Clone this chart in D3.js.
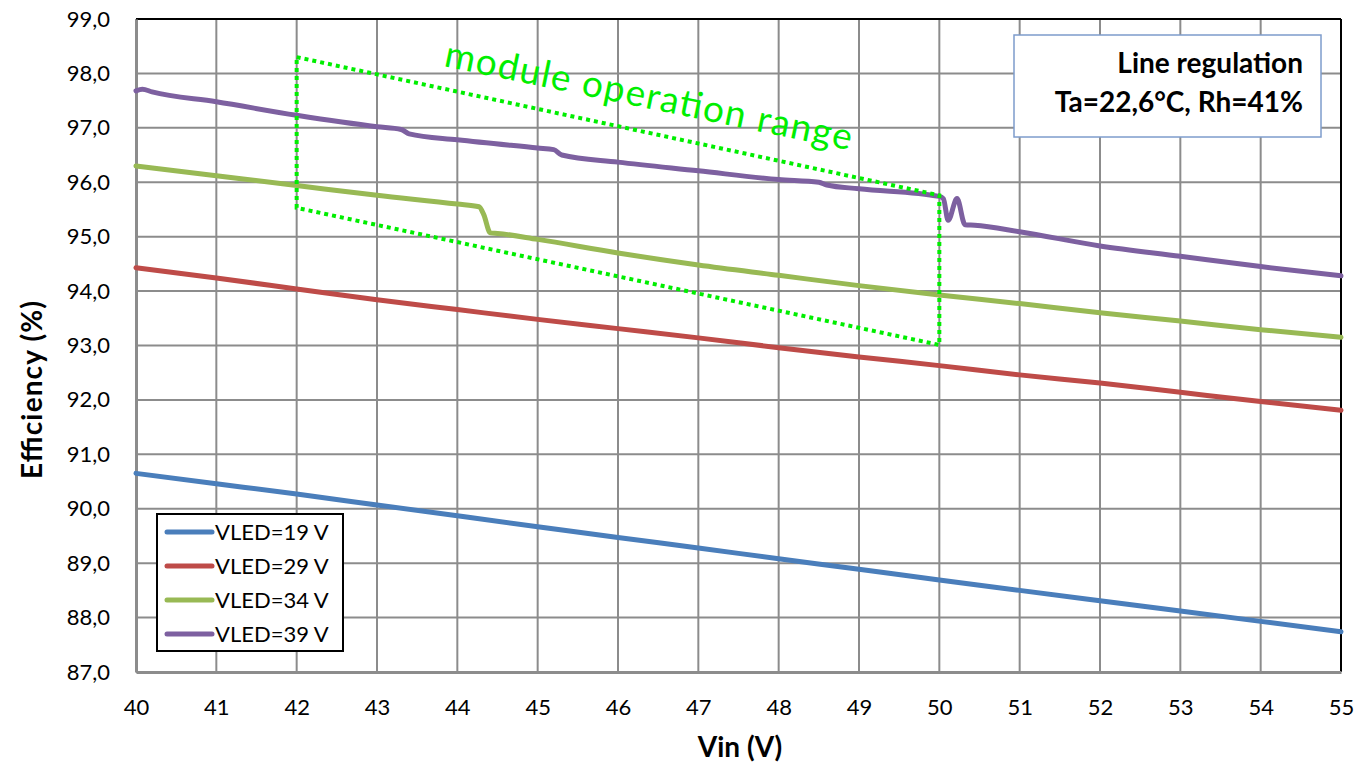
<!DOCTYPE html>
<html><head><meta charset="utf-8">
<script src="https://cdn.jsdelivr.net/npm/d3@7"></script>
<style>body{margin:0;background:#fff;} svg{display:block;font-family:Lato,"Open Sans",sans-serif;}</style>
</head><body>
<svg id="c" width="1356" height="765"></svg>
<script>
const xTicks = [40,41,42,43,44,45,46,47,48,49,50,51,52,53,54,55];
const yTicks = [87,88,89,90,91,92,93,94,95,96,97,98,99];
const seriesNames = ["VLED=19 V","VLED=29 V","VLED=34 V","VLED=39 V"];
const seriesColors = ["#4a7ebb","#be4b48","#98b954","#7d60a0"];
const vin19 = [40,41,42,43,44,45,46,47,48,49,50,51,52,53,54,55];
const eff19 = [90.65,90.46,90.27,90.07,89.87,89.67,89.47,89.28,89.08,88.89,88.69,88.50,88.31,88.12,87.93,87.74];
const vin29 = [40,41,42,43,44,45,46,47,48,49,50,51,52,53,54,55];
const eff29 = [94.43,94.24,94.04,93.84,93.66,93.48,93.31,93.14,92.96,92.79,92.63,92.46,92.31,92.14,91.97,91.81];
const vin34 = [40,41,42,43,44,44.27,44.33,44.41,44.5,45,46,47,48,49,50,51,52,53,54,55];
const eff34 = [96.30,96.12,95.94,95.76,95.60,95.55,95.40,95.07,95.06,94.95,94.70,94.48,94.29,94.10,93.93,93.77,93.60,93.45,93.29,93.15];
const vin39 = [40,40.08,40.2,41,42,43,43.3,43.4,44,45,45.2,45.3,46,47,48,48.5,48.6,49,50,50.05,50.11,50.22,50.32,50.44,51,52,53,54,55];
const eff39 = [97.68,97.71,97.66,97.48,97.23,97.02,96.97,96.89,96.78,96.63,96.60,96.50,96.37,96.21,96.05,96.00,95.95,95.88,95.74,95.70,95.30,95.70,95.22,95.21,95.09,94.83,94.64,94.45,94.28];
const rangeVin = [42,50,50,42];
const rangeEff = [98.30,95.76,93.01,95.53];
const boxLines = ["Line regulation","Ta=22,6°C, Rh=41%"];
const rangeLabel = "module operation range";

const svg = d3.select("#c");
const L=136,R=1341,T=19,B=672;
const x = d3.scaleLinear().domain([40,55]).range([L,R]);
const y = d3.scaleLinear().domain([87,99]).range([B,T]);

// grid
svg.append("g").selectAll("line").data(xTicks).join("line")
  .attr("x1",d=>x(d)).attr("x2",d=>x(d)).attr("y1",T).attr("y2",B)
  .attr("stroke","#8c8c8c").attr("stroke-width",2);
svg.append("g").selectAll("line").data(yTicks).join("line")
  .attr("x1",L).attr("x2",R).attr("y1",d=>y(d)).attr("y2",d=>y(d))
  .attr("stroke","#8c8c8c").attr("stroke-width",2);
// top/right black border
svg.append("line").attr("x1",L).attr("x2",R).attr("y1",T).attr("y2",T).attr("stroke","#000").attr("stroke-width",2);
svg.append("line").attr("x1",R).attr("x2",R).attr("y1",T).attr("y2",B).attr("stroke","#000").attr("stroke-width",2);

// axes
const xAxis = svg.append("g").attr("transform",`translate(0,${B})`)
  .call(d3.axisBottom(x).tickValues(xTicks).tickFormat(d3.format("d")).tickSize(0).tickPadding(27));
xAxis.select(".domain").attr("stroke","#8c8c8c").attr("stroke-width",3);
xAxis.selectAll("text").attr("font-size",22).attr("fill","#000").attr("font-family","Lato");
const yAxis = svg.append("g").attr("transform",`translate(${L},0)`)
  .call(d3.axisLeft(y).tickValues(yTicks).tickFormat(d=>d.toFixed(1).replace(".",",")).tickSize(0).tickPadding(26));
yAxis.select(".domain").attr("stroke","#8c8c8c").attr("stroke-width",3);
yAxis.selectAll("text").attr("font-size",22).attr("fill","#000").attr("font-family","Lato");

// series
const line = d3.line().x(d=>x(d[0])).y(d=>y(d[1])).curve(d3.curveMonotoneX);
const data = [d3.zip(vin19,eff19), d3.zip(vin29,eff29), d3.zip(vin34,eff34), d3.zip(vin39,eff39)];
svg.append("g").selectAll("path").data(data).join("path")
  .attr("d",line).attr("fill","none").attr("stroke",(d,i)=>seriesColors[i])
  .attr("stroke-width",5).attr("stroke-linejoin","round").attr("stroke-linecap","round");

// operation range polygon
const poly = d3.zip(rangeVin,rangeEff);
svg.append("path").attr("d",d3.line().x(d=>x(d[0])).y(d=>y(d[1]))(poly)+"Z")
  .attr("fill","none").attr("stroke","#00ee00").attr("stroke-width",4).attr("stroke-dasharray","4 4");
svg.append("text").attr("x",443).attr("y",66).attr("transform","rotate(11.7,443,66)")
  .attr("font-size",37).attr("fill","#00ee00").attr("font-family","Lato")
  .attr("textLength",415).attr("lengthAdjust","spacing").text(rangeLabel);

// info box
svg.append("rect").attr("x",1014).attr("y",35).attr("width",307).attr("height",102)
  .attr("fill","#fff").attr("stroke","#7e9ccc").attr("stroke-width",1.5);
svg.append("g").selectAll("text").data(boxLines).join("text")
  .attr("x",1303).attr("y",(d,i)=>73+i*39).attr("text-anchor","end")
  .attr("font-size",28).attr("font-weight","bold").attr("fill","#000").attr("font-family","Lato").text(d=>d);

// legend
svg.append("rect").attr("x",157).attr("y",514).attr("width",186).attr("height",137)
  .attr("fill","#fff").attr("stroke","#000").attr("stroke-width",2);
const lg = svg.append("g").selectAll("g").data(seriesNames).join("g")
  .attr("transform",(d,i)=>`translate(0,${532+i*34})`);
lg.append("line").attr("x1",167).attr("x2",212).attr("y1",0).attr("y2",0)
  .attr("stroke",(d,i)=>seriesColors[i]).attr("stroke-width",5).attr("stroke-linecap","round");
lg.append("text").attr("x",215).attr("y",8).attr("font-size",22).attr("fill","#000").attr("font-family","Lato").text(d=>d);

// axis titles
svg.append("text").attr("x",740).attr("y",757).attr("text-anchor","middle")
  .attr("font-size",28).attr("font-weight","bold").attr("font-family","Lato").text("Vin (V)");
svg.append("text").attr("transform",`translate(42,390) rotate(-90)`).attr("text-anchor","middle")
  .attr("font-size",28).attr("font-weight","bold").attr("font-family","Lato")
  .attr("textLength",178).attr("lengthAdjust","spacing").text("Efficiency (%)");
</script>
</body></html>
